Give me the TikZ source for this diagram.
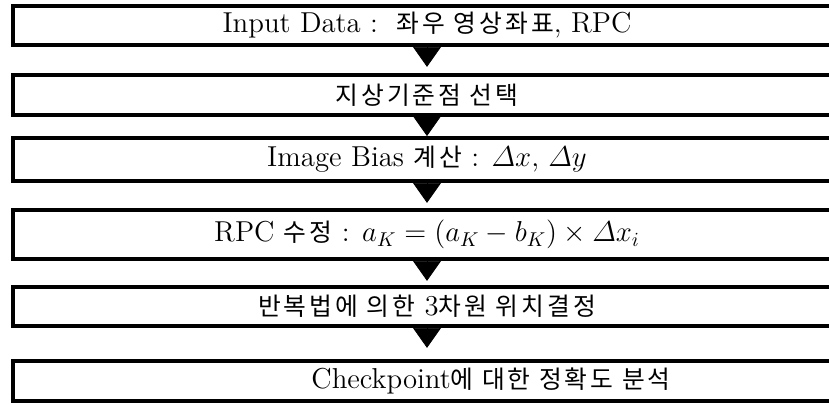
\documentclass[tikz,border=0pt]{standalone}
\usepackage{amsmath}
\usepackage{fontspec}
\newfontfamily\kr[Scale=0.86,LetterSpace=12]{Noto Sans CJK KR}
\usetikzlibrary{arrows.meta}

\begin{document}
\begin{tikzpicture}[x=0.5pt, y=-0.5pt,
    stage/.style={draw=borderColour, line width=1.9pt, minimum width=414pt, inner sep=0pt, font=\Large},
    flow/.style={-{Triangle[length=10pt, width=14pt]}, line width=0.4pt, draw=borderColour}]
    % Define colours
    \definecolor{borderColour}{HTML}{000000}

    % Fix the picture size (boxes run past the right edge)
    \useasboundingbox (0,0) rectangle (829,405);

    % Draw the stage boxes
    \node[stage, minimum height=19.5pt] (input) at (427,25.5) {Input Data :\ \ {\kr 좌우 영상좌표}, RPC};
    \node[stage, minimum height=20pt] (gcp) at (427,95) {\kr 지상기준점 선택};
    \node[stage, minimum height=21.5pt] (bias) at (427,159.5) {Image Bias {\kr 계산} : $\varDelta x$, $\varDelta y$};
    \node[stage, minimum height=24.5pt] (rpc) at (427,234.5) {RPC {\kr 수정} : $a_K = (a_K - b_K) \times \varDelta x_i$};
    \node[stage, minimum height=19.5pt] (solve) at (427,306.5) {{\kr 반복법에 의한} 3{\kr 차원 위치결정}};
    \node[stage, minimum height=20pt] (check) at (427,381) {\hspace*{64pt}Checkpoint{\kr 에 대한 정확도 분석}};

    % Draw the flow arrows, the shaft is hidden under the tip
    \foreach \from/\to/\gap in {input/gcp/3.1pt, gcp/bias/0pt, bias/rpc/2.6pt, rpc/solve/2.1pt, solve/check/5.6pt}
        \draw[flow, shorten >=\gap] (\from) -- (\to);

\end{tikzpicture}
\end{document}
